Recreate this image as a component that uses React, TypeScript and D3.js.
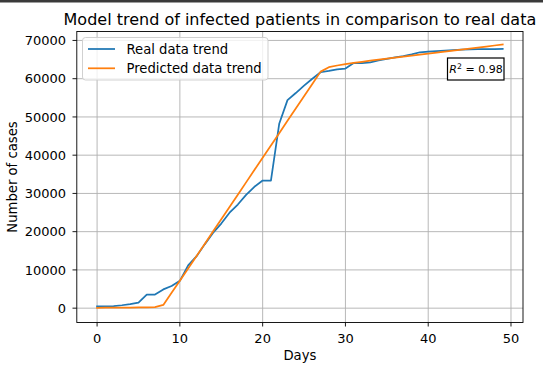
import React from "react";
import * as d3 from "d3";

const days: number[] = Array.from({ length: 50 }, (_, i) => i);
const realData: number[] = [
  444, 444, 549, 761, 1058, 1423, 3554, 3554, 4903, 5806, 7153, 11177, 13522, 16678, 19665,
  22112, 24953, 27100, 29631, 31728, 33366, 33366, 48206, 54406, 56249, 58182, 59989, 61682,
  62031, 62442, 62662, 64084, 64084, 64287, 64786, 65187, 65596, 65914, 66337, 66907, 67103,
  67217, 67332, 67466, 67592, 67666, 67707, 67743, 67760, 67773,
];
const predictedData: number[] = [
  100, 110, 120, 140, 160, 190, 220, 280, 850, 4000, 7150, 10370, 13590, 16800, 20020, 23240,
  26460, 29670, 32890, 36110, 39330, 42540, 45760, 48980, 52200, 55420, 58630, 61850, 63000,
  63450, 63800, 64150, 64420, 64700, 64970, 65240, 65500, 65770, 66040, 66300, 66560, 66830,
  67100, 67360, 67630, 67890, 68150, 68410, 68680, 68940,
];
const xTicks: number[] = [0, 10, 20, 30, 40, 50];
const yTicks: number[] = [0, 10000, 20000, 30000, 40000, 50000, 60000, 70000];
const seriesNames: string[] = ["Real data trend", "Predicted data trend"];
const title = "Model trend of infected patients in comparison to real data";
const r2Value = "0.98";

const W = 543, H = 371;
const L = 76.8, R = 523, T = 31.5, B = 322.5;
const FONT = "DejaVu Sans, sans-serif";
const FS = 13.2;
const TFS = 13;

export default function App() {
  const x = d3.scaleLinear().domain([-2.45, 51.45]).range([L, R]);
  const y = d3.scaleLinear().domain([-3750, 72340]).range([B, T]);
  const line = d3
    .line<number>()
    .x((_, i) => x(days[i]))
    .y((v) => y(v));
  const colors = ["#1f77b4", "#ff7f0e"];

  return (
    <svg
      width={W}
      height={H}
      style={{ position: "absolute", left: 0, top: 0, background: "#fff" }}
      fontFamily={FONT}
    >
      <rect x={0} y={0} width={W} height={H} fill="#fff" />
      <rect x={0} y={0} width={W} height={2.5} fill="#3a3a3a" />
      <text x={(L + R) / 2} y={25} textAnchor="middle" fontSize={16} fill="#000">
        {title}
      </text>
      {xTicks.map((t) => (
        <line key={"gx" + t} x1={x(t)} x2={x(t)} y1={T} y2={B} stroke="#b0b0b0" strokeWidth={0.9} />
      ))}
      {yTicks.map((t) => (
        <line key={"gy" + t} x1={L} x2={R} y1={y(t)} y2={y(t)} stroke="#b0b0b0" strokeWidth={0.9} />
      ))}
      <defs>
        <clipPath id="plot">
          <rect x={L} y={T} width={R - L} height={B - T} />
        </clipPath>
      </defs>
      <g clipPath="url(#plot)" fill="none" strokeWidth={1.75} strokeLinejoin="round" strokeLinecap="square">
        <path d={line(realData) || ""} stroke={colors[0]} />
        <path d={line(predictedData) || ""} stroke={colors[1]} />
      </g>
      <rect x={L} y={T} width={R - L} height={B - T} fill="none" stroke="#000" strokeWidth={0.9} />
      {xTicks.map((t) => (
        <g key={"xt" + t}>
          <line x1={x(t)} x2={x(t)} y1={B} y2={B + 4} stroke="#000" strokeWidth={0.9} />
          <text x={x(t)} y={B + 20} textAnchor="middle" fontSize={TFS} fill="#000">
            {t}
          </text>
        </g>
      ))}
      {yTicks.map((t) => (
        <g key={"yt" + t}>
          <line x1={L - 4.3} x2={L} y1={y(t)} y2={y(t)} stroke="#000" strokeWidth={0.9} />
          <text x={L - 10.8} y={y(t) + 4.7} textAnchor="end" fontSize={TFS} fill="#000">
            {t}
          </text>
        </g>
      ))}
      <text x={(L + R) / 2} y={360} textAnchor="middle" fontSize={FS} fill="#000">
        Days
      </text>
      <text
        transform={`translate(16.5,${(T + B) / 2}) rotate(-90)`}
        textAnchor="middle"
        fontSize={FS}
        fill="#000"
      >
        Number of cases
      </text>
      <rect x={82.5} y={37.5} width={185.5} height={42.5} rx={3} fill="#fff" fillOpacity={0.8} stroke="#cccccc" strokeWidth={0.9} />
      {seriesNames.map((n, i) => (
        <g key={n}>
          <line x1={88} x2={115} y1={49 + i * 19.3} y2={49 + i * 19.3} stroke={colors[i]} strokeWidth={1.75} />
          <text x={126.5} y={53.8 + i * 19.3} fontSize={FS} fill="#000">
            {n}
          </text>
        </g>
      ))}
      <rect x={447.5} y={58} width={56.5} height={22} fill="#fff" stroke="#000" strokeWidth={1.2} />
      <text x={476} y={73} textAnchor="middle" fontSize={11} fill="#000">
        <tspan fontStyle="italic">R</tspan>
        <tspan fontSize={7.7} dy={-4.5}>2</tspan>
        <tspan dy={4.5}> = {r2Value}</tspan>
      </text>
    </svg>
  );
}
